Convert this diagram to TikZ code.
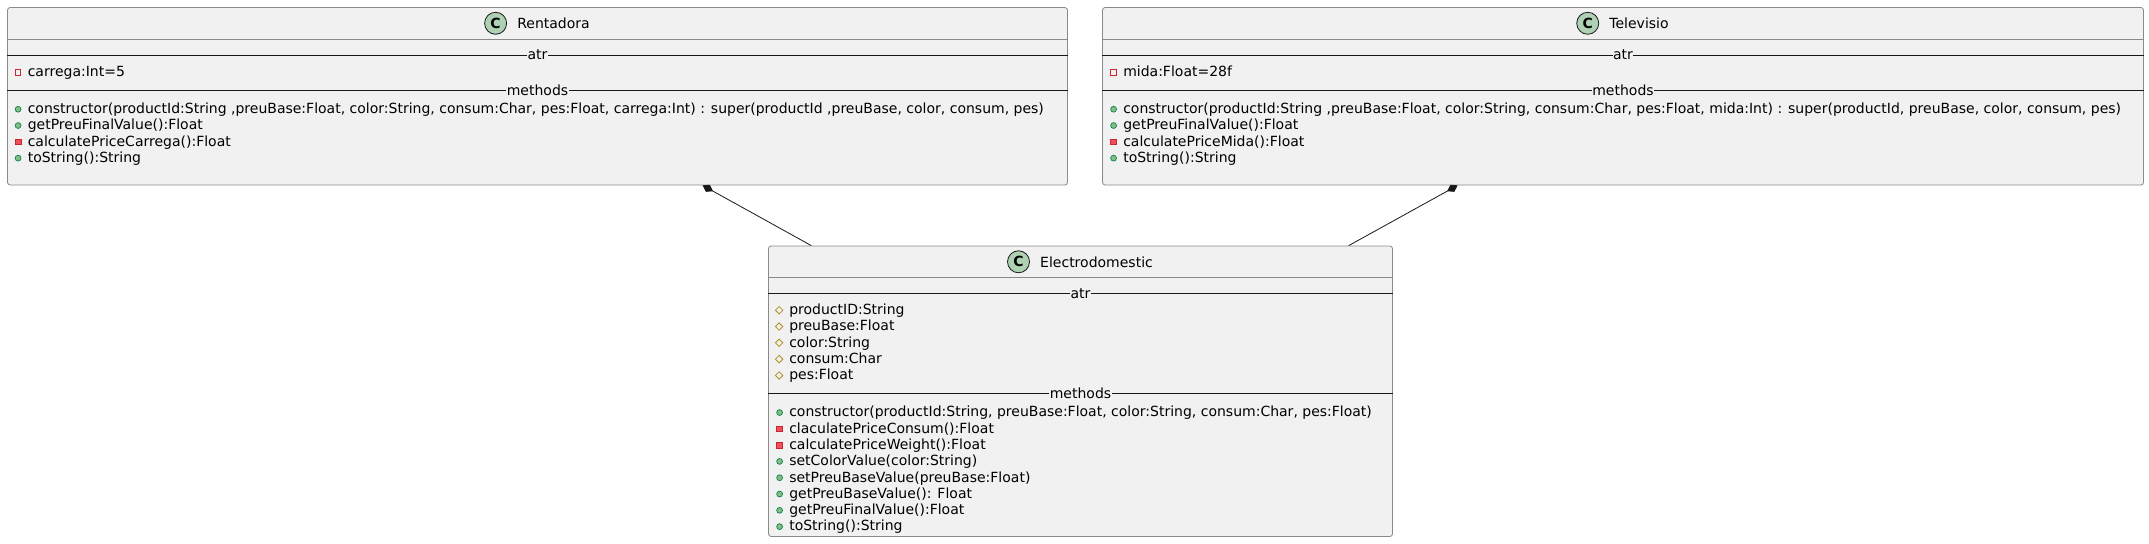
\documentclass[tikz,border=0pt]{standalone}
\usepackage{fontspec}
\setmainfont{DejaVu Sans}
\usepackage{tikz}
\usetikzlibrary{positioning, calc, fit, shapes.geometric, arrows.meta}
\definecolor{BoxFill}{HTML}{F1F1F1}
\definecolor{BorderGray}{HTML}{8A8A8A}
\definecolor{LineDark}{HTML}{181818}
\definecolor{IconGreen}{HTML}{ADD1B2}
\definecolor{PrivRed}{HTML}{C82930}
\definecolor{PrivFill}{HTML}{F24D5C}
\definecolor{PubGreen}{HTML}{038048}
\definecolor{PubFill}{HTML}{84BE84}
\definecolor{ProtGold}{HTML}{B38D22}

\begin{document}
\begin{tikzpicture}[x=0.75pt, y=-0.75pt, font=\fontsize{10.5pt}{12.6pt}\selectfont,
    classbox/.style={draw=BorderGray, line width=0.6pt, fill=BoxFill, rounded corners=2pt, inner sep=0pt},
    classicon/.style={circle, draw=LineDark, line width=0.6pt, fill=IconGreen, minimum size=16.5pt, inner sep=0pt, font=\fontsize{10.5pt}{12pt}\selectfont\bfseries},
    classname/.style={anchor=base, inner sep=0pt},
    headline/.style={draw=BorderGray, line width=0.6pt},
    sepline/.style={draw=LineDark, line width=0.75pt},
    seplabel/.style={anchor=base, fill=BoxFill, inner xsep=0.3pt, inner ysep=0.5pt},
    member/.style={anchor=base west, inner sep=0pt, text height=8.5pt, text depth=2.1pt},
    pubdot/.style={circle, draw=PubGreen, line width=0.5pt, fill=PubFill, minimum size=4.4pt, inner sep=0pt},
    privsq/.style={rectangle, draw=PrivRed, line width=0.5pt, fill=PrivFill, minimum size=4.4pt, inner sep=0pt},
    privbox/.style={rectangle, draw=PrivRed, line width=0.7pt, minimum size=4.2pt, inner sep=0pt},
    protdia/.style={diamond, draw=ProtGold, line width=0.6pt, minimum width=5.8pt, minimum height=5.8pt, inner sep=0pt},
    pubop/.style={member, label={[pubdot, xshift=-4.6pt]west:{}}},
    privop/.style={member, label={[privsq, xshift=-4.6pt]west:{}}},
    privattr/.style={member, label={[privbox, xshift=-4.6pt]west:{}}},
    protattr/.style={member, label={[protdia, xshift=-4.2pt]west:{}}},
    composes/.style={draw=LineDark, line width=0.6pt, -{Diamond[length=9pt, width=6pt]}}]
    \useasboundingbox (0,0) rectangle (2149,543);

    % Rentadora
    \node[classbox, fit={(7.5,7.5) (1067.5,185)}] (rent) {};
    \node[classname] (rentName) at (553.5,28.5) {Rentadora};
    \node[classicon, left=7.5pt of rentName] (rentIcon) {C};
    \draw[headline] ($(rent.north west)+(0,32)$) -- ($(rent.north east)+(0,32)$);
    \draw[sepline] ($(rent.north west)+(0,48)$) -- ($(rent.north east)+(0,48)$);
    \draw[sepline] ($(rent.north west)+(0,83.7)$) -- ($(rent.north east)+(0,83.7)$);
    \node[seplabel] (rentAtr) at (537.5,59.5) {atr};
    \node[seplabel] (rentMeth) at (537.5,95.2) {methods};
    \node[privattr] (rentA1) at (27.5,76.7) {carrega:Int=5};
    \node[pubop] (rentM1) at (27.5,113.5) {constructor(productId:String ,preuBase:Float, color:String, consum:Char, pes:Float, carrega:Int) : super(productId ,preuBase, color, consum, pes)};
    \node[pubop] (rentM2) at (27.5,129.8) {getPreuFinalValue():Float};
    \node[privop] (rentM3) at (27.5,146.1) {calculatePriceCarrega():Float};
    \node[pubop] (rentM4) at (27.5,162.4) {toString():String};

    % Televisio
    \node[classbox, fit={(1102.5,7.5) (2143.5,185)}] (tele) {};
    \node[classname] (teleName) at (1639,28.5) {Televisio};
    \node[classicon, left=7.5pt of teleName] (teleIcon) {C};
    \draw[headline] ($(tele.north west)+(0,32)$) -- ($(tele.north east)+(0,32)$);
    \draw[sepline] ($(tele.north west)+(0,48)$) -- ($(tele.north east)+(0,48)$);
    \draw[sepline] ($(tele.north west)+(0,83.7)$) -- ($(tele.north east)+(0,83.7)$);
    \node[seplabel] (teleAtr) at (1623,59.5) {atr};
    \node[seplabel] (teleMeth) at (1623,95.2) {methods};
    \node[privattr] (teleA1) at (1123,76.7) {mida:Float=28f};
    \node[pubop] (teleM1) at (1123,113.5) {constructor(productId:String ,preuBase:Float, color:String, consum:Char, pes:Float, mida:Int) : super(productId, preuBase, color, consum, pes)};
    \node[pubop] (teleM2) at (1123,129.8) {getPreuFinalValue():Float};
    \node[privop] (teleM3) at (1123,146.1) {calculatePriceMida():Float};
    \node[pubop] (teleM4) at (1123,162.4) {toString():String};

    % Electrodomestic
    \node[classbox, fit={(768.5,246) (1392.5,536.5)}] (elec) {};
    \node[classname] (elecName) at (1096.5,267) {Electrodomestic};
    \node[classicon, left=7.5pt of elecName] (elecIcon) {C};
    \draw[headline] ($(elec.north west)+(0,32)$) -- ($(elec.north east)+(0,32)$);
    \draw[sepline] ($(elec.north west)+(0,48)$) -- ($(elec.north east)+(0,48)$);
    \draw[sepline] ($(elec.north west)+(0,148.2)$) -- ($(elec.north east)+(0,148.2)$);
    \node[seplabel] (elecAtr) at (1080.5,298) {atr};
    \node[seplabel] (elecMeth) at (1080.5,398.2) {methods};
    \node[protattr] (elecA1) at (789,314.5) {productID:String};
    \node[protattr] (elecA2) at (789,330.8) {preuBase:Float};
    \node[protattr] (elecA3) at (789,347.1) {color:String};
    \node[protattr] (elecA4) at (789,363.4) {consum:Char};
    \node[protattr] (elecA5) at (789,379.7) {pes:Float};
    \node[pubop] (elecM1) at (789,416.8) {constructor(productId:String, preuBase:Float, color:String, consum:Char, pes:Float)};
    \node[privop] (elecM2) at (789,433.1) {claculatePriceConsum():Float};
    \node[privop] (elecM3) at (789,449.4) {calculatePriceWeight():Float};
    \node[pubop] (elecM4) at (789,465.7) {setColorValue(color:String)};
    \node[pubop] (elecM5) at (789,482) {setPreuBaseValue(preuBase:Float)};
    \node[pubop] (elecM6) at (789,498.3) {getPreuBaseValue(): Float};
    \node[pubop] (elecM7) at (789,514.6) {getPreuFinalValue():Float};
    \node[pubop] (elecM8) at (789,530.9) {toString():String};

    % composition links
    \coordinate (rentFoot) at ($(rent.south west)+(695.5,0)$);
    \coordinate (teleFoot) at ($(tele.south west)+(355.5,0)$);
    \coordinate (elecLeft) at ($(elec.north west)+(43.2,0)$);
    \coordinate (elecRight) at ($(elec.north east)+(-44.2,0)$);
    \draw[composes] (elecLeft) -- (rentFoot);
    \draw[composes] (elecRight) -- (teleFoot);
\end{tikzpicture}
\end{document}
